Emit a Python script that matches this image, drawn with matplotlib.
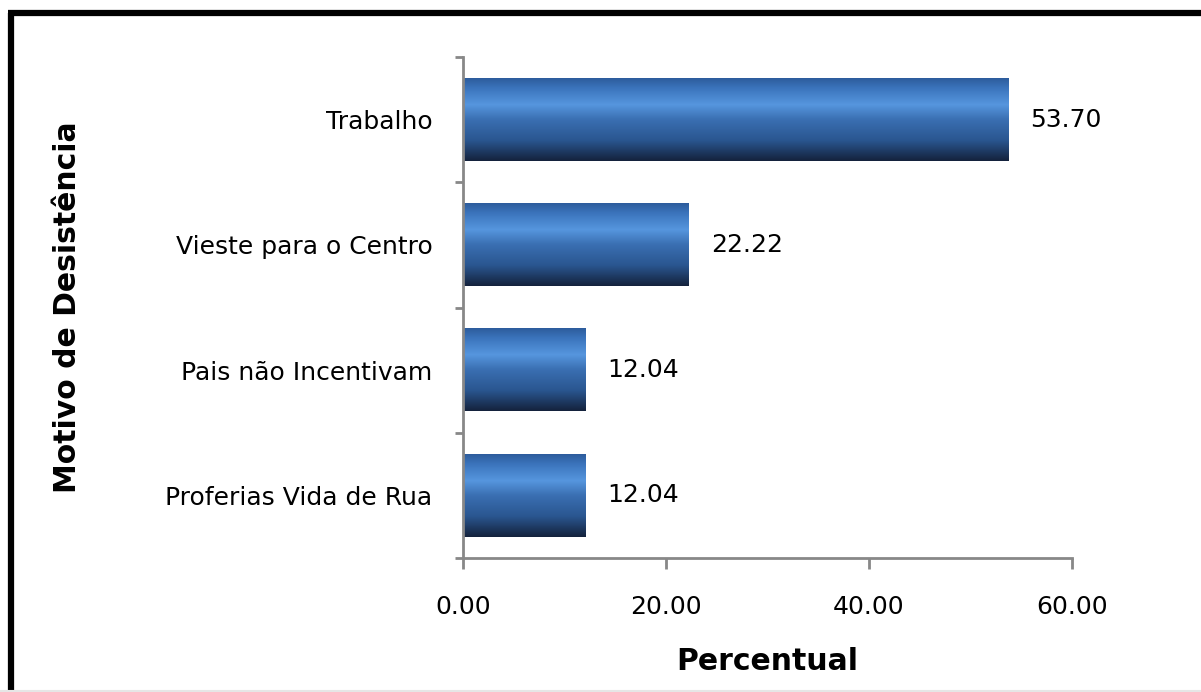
import numpy as np
import matplotlib
matplotlib.use("Agg")
import matplotlib.pyplot as plt
from matplotlib.colors import LinearSegmentedColormap
from matplotlib.lines import Line2D

categories = ["Proferias Vida de Rua", "Pais não Incentivam", "Vieste para o Centro", "Trabalho"]
values = [12.04, 12.04, 22.22, 53.70]
xticks = [0, 20, 40, 60]
xlabel = "Percentual"
ylabel = "Motivo de Desistência"

plt.rcParams['font.family'] = ['DejaVu Sans']

fig = plt.figure(figsize=(12.01, 6.92), dpi=100)
ax = fig.add_axes([463/1201, 1-558/692, (1072-463)/1201, (558-57)/692])

y = np.arange(len(categories))
bars = ax.barh(y, values, height=0.66, color='none', edgecolor='none', zorder=2)

cmap = LinearSegmentedColormap.from_list("bar", [
    (0.0, "#14223c"),
    (0.25, "#2a5690"),
    (0.5, "#3a6fb2"),
    (0.68, "#5696de"),
    (0.88, "#3b74bc"),
    (1.0, "#2d5c9c"),
])
grad = np.linspace(0, 1, 256).reshape(-1, 1)
for b in bars:
    x0, y0 = b.get_x(), b.get_y()
    w, h = b.get_width(), b.get_height()
    ax.imshow(grad, cmap=cmap, aspect='auto', origin='lower',
              extent=[x0, x0 + w, y0, y0 + h], zorder=2, interpolation='bilinear')

fs = 18
for yi, v in zip(y, values):
    ax.annotate(f"{v:.2f}", xy=(v, yi), xytext=(16, 0), textcoords='offset points',
                ha='left', va='center', fontsize=fs, color='black')

ax.set_xlim(0, 60)
ax.set_ylim(-0.5, len(categories) - 0.5)
ax.set_xticks(xticks)
ax.set_xticklabels([f"{t:.2f}" for t in xticks], fontsize=fs)
ax.set_yticks(y)
ax.set_yticklabels(categories, fontsize=fs)
ax.tick_params(axis='y', which='major', length=0, pad=22)
ax.set_yticks(np.arange(len(categories) + 1) - 0.5, minor=True)
ax.tick_params(axis='y', which='minor', length=6, width=2, color='#888888', direction='out')
ax.tick_params(axis='x', which='major', length=8, width=2, color='#888888', direction='out', pad=19)

for s in ['top', 'right']:
    ax.spines[s].set_visible(False)
for s in ['left', 'bottom']:
    ax.spines[s].set_color('#888888')
    ax.spines[s].set_linewidth(2)

ax.set_xlabel(xlabel, fontsize=21.5, fontweight='bold', labelpad=20)
fig.text(68/1201, 1-307/692, ylabel, rotation=90, fontsize=21.5, fontweight='bold',
         ha='center', va='center')

# outer frame
fig.add_artist(Line2D([10.5/1201, 10.5/1201], [0, 1-13/692], transform=fig.transFigure,
                      color='black', linewidth=4.5, solid_capstyle='butt'))
fig.add_artist(Line2D([8/1201, 1], [1-13/692, 1-13/692], transform=fig.transFigure,
                      color='black', linewidth=4.5, solid_capstyle='butt'))
fig.add_artist(Line2D([0, 1], [1.5/692, 1.5/692], transform=fig.transFigure,
                      color='#e6e6e6', linewidth=1.5))

fig.savefig("out.png", dpi=100)
